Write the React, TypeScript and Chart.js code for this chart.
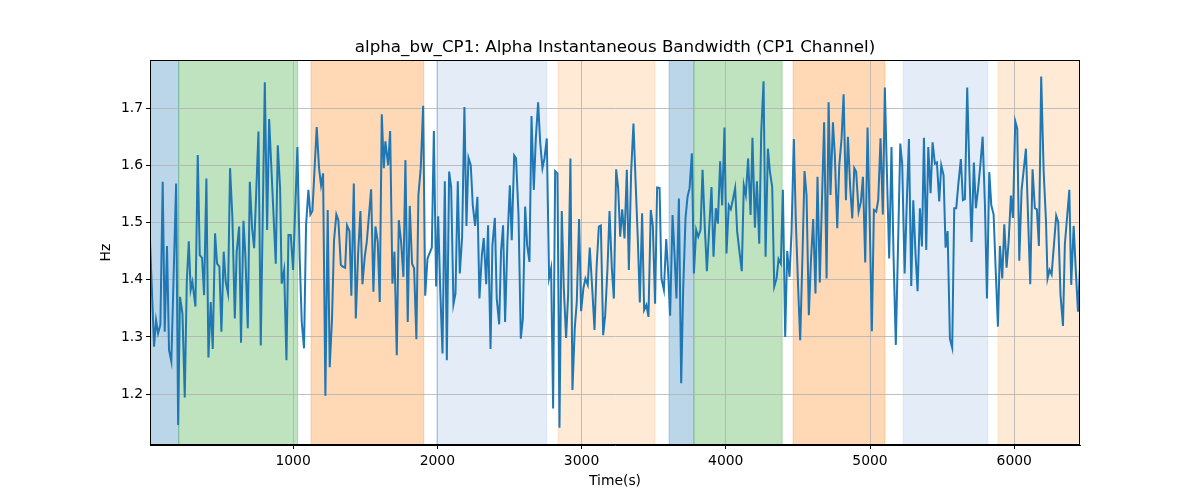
import React, { useEffect, useRef } from 'react';
import { Chart, registerables } from 'chart.js';

Chart.register(...registerables);

// Time (s) of each sample
const times = [
  8, 36, 50, 64, 80, 96, 110, 126, 140, 156, 189, 203, 216, 233, 249, 263, 277, 290, 302, 323,
  339, 353, 369, 383, 399, 413, 429, 443, 459, 473, 489, 503, 519, 533, 549, 563, 579, 596, 609, 626,
  639, 656, 669, 686, 700, 716, 730, 760, 776, 804, 820,
  834, 880, 894, 910, 921, 938, 954, 968, 984, 1000, 1030, 1046, 1060, 1076, 1090, 1106, 1120, 1134, 1164,
  1180, 1194, 1208, 1224, 1240, 1254, 1270, 1284, 1300, 1314, 1331, 1344, 1361, 1374, 1391, 1404, 1421, 1435, 1451, 1467,
  1481, 1497, 1511, 1541, 1557, 1571, 1587, 1601, 1615,
  1629, 1640, 1659, 1673, 1689, 1703, 1719, 1733, 1749, 1765, 1779, 1795, 1809, 1825, 1839, 1855, 1869, 1885, 1902, 1916,
  1932, 1946, 1962, 1976, 1992, 2006, 2020, 2036, 2052, 2066, 2082, 2096, 2112, 2126, 2142, 2156, 2172, 2188, 2202, 2216,
  2232, 2246, 2262, 2278, 2292, 2309, 2322, 2339, 2352, 2369, 2382, 2399, 2412, 2429,
  2442, 2456, 2470, 2486, 2503, 2516, 2533, 2546, 2563, 2579, 2593, 2609, 2623, 2639, 2653, 2669, 2683, 2699, 2713, 2729,
  2743, 2759, 2775, 2789, 2803, 2817, 2833, 2847, 2863, 2877, 2893, 2907, 2923, 2937, 2953, 2967, 2983, 2997, 3013, 3027,
  3043, 3057, 3074, 3090, 3104, 3120, 3134, 3150, 3164, 3180, 3194, 3210, 3224, 3240, 3254,
  3268, 3282, 3298, 3314, 3328, 3344, 3360, 3374, 3390, 3404, 3420, 3434, 3450, 3464, 3480, 3494, 3510, 3524, 3541, 3554,
  3571, 3587, 3601, 3614, 3631, 3645, 3658, 3675, 3691, 3705, 3721, 3735, 3749, 3765, 3779, 3795, 3809, 3825, 3839, 3855,
  3869, 3885, 3901, 3915, 3931, 3945, 3961, 3975, 3991, 4005, 4021, 4035, 4051, 4065,
  4079, 4095, 4111, 4125, 4139, 4155, 4172, 4185, 4202, 4216, 4232, 4246, 4262, 4276, 4292, 4306, 4322, 4336, 4352, 4366,
  4382, 4396, 4412, 4426, 4442, 4456, 4472, 4486, 4502, 4516, 4532, 4546, 4560, 4576, 4590, 4606, 4622, 4636, 4652, 4666,
  4682, 4699, 4713, 4726, 4743, 4756, 4773, 4787, 4803, 4817, 4833, 4847, 4863, 4877,
  4891, 4904, 4921, 4937, 4951, 4967, 4983, 4997, 5013, 5027, 5043, 5057, 5073, 5089, 5103, 5117, 5133, 5149, 5163, 5179,
  5193, 5210, 5223, 5240, 5256, 5270, 5286, 5300, 5316, 5330, 5346, 5360, 5374, 5390, 5404, 5420, 5434, 5450, 5464, 5480,
  5494, 5510, 5524, 5538, 5554, 5570, 5584, 5598, 5614, 5630, 5644, 5658, 5674, 5688,
  5704, 5720, 5734, 5750, 5767, 5781, 5797, 5811, 5827, 5841, 5857, 5871, 5887, 5901, 5917, 5931, 5947, 5961, 5977, 5991,
  6007, 6021, 6035, 6051, 6067, 6081, 6097, 6111, 6127, 6143, 6157, 6171, 6187, 6204, 6220, 6231, 6245, 6259, 6275, 6291,
  6305, 6321, 6338, 6351, 6368, 6382, 6395, 6412, 6426, 6442, 6456,
];

// Alpha instantaneous bandwidth (Hz) at each time above
const bandwidth = [
  1.469, 1.283, 1.329, 1.306, 1.321, 1.571, 1.309, 1.459, 1.277, 1.257, 1.568, 1.146, 1.370, 1.341, 1.194, 1.396, 1.467, 1.382, 1.396, 1.353,
  1.618, 1.443, 1.438, 1.373, 1.577, 1.264, 1.361, 1.279, 1.481, 1.428, 1.423, 1.309, 1.449, 1.396, 1.376, 1.595, 1.510, 1.332, 1.449, 1.493,
  1.290, 1.503, 1.443, 1.315, 1.571, 1.490, 1.455, 1.659, 1.285, 1.745, 1.487,
  1.681, 1.428, 1.635, 1.560, 1.393, 1.417, 1.259, 1.478, 1.478, 1.417, 1.632, 1.437, 1.326, 1.280, 1.495, 1.557, 1.514, 1.520, 1.667,
  1.595, 1.565, 1.586, 1.197, 1.522, 1.247, 1.332, 1.469, 1.514, 1.504, 1.426, 1.423, 1.421, 1.495, 1.485, 1.372, 1.568, 1.332, 1.446, 1.520,
  1.392, 1.440, 1.466, 1.558, 1.379, 1.493, 1.466, 1.361, 1.689,
  1.595, 1.642, 1.600, 1.660, 1.393, 1.449, 1.268, 1.504, 1.466, 1.405, 1.609, 1.326, 1.529, 1.428, 1.420, 1.296, 1.548, 1.595, 1.704, 1.372,
  1.437, 1.446, 1.456, 1.660, 1.388, 1.511, 1.385, 1.271, 1.572, 1.259, 1.589, 1.562, 1.357, 1.376, 1.572, 1.411, 1.475, 1.702, 1.494, 1.613,
  1.600, 1.530, 1.494, 1.545, 1.367, 1.443, 1.473, 1.392, 1.495, 1.279, 1.460, 1.508, 1.367, 1.322,
  1.450, 1.495, 1.326, 1.466, 1.565, 1.469, 1.617, 1.612, 1.513, 1.297, 1.332, 1.528, 1.460, 1.431, 1.686, 1.557, 1.647, 1.710, 1.641, 1.595,
  1.612, 1.647, 1.403, 1.420, 1.175, 1.590, 1.586, 1.141, 1.520, 1.385, 1.298, 1.373, 1.612, 1.207, 1.315, 1.361, 1.506, 1.345, 1.385, 1.402,
  1.391, 1.456, 1.385, 1.312, 1.420, 1.493, 1.495, 1.303, 1.338, 1.420, 1.520, 1.420, 1.367, 1.593, 1.560,
  1.475, 1.523, 1.472, 1.592, 1.417, 1.589, 1.673, 1.577, 1.472, 1.360, 1.516, 1.347, 1.356, 1.335, 1.522, 1.495, 1.358, 1.561, 1.560, 1.402,
  1.382, 1.471, 1.411, 1.337, 1.513, 1.443, 1.367, 1.542, 1.219, 1.385, 1.508, 1.545, 1.560, 1.621, 1.411, 1.487, 1.475, 1.487, 1.592, 1.490,
  1.415, 1.490, 1.562, 1.440, 1.525, 1.498, 1.607, 1.530, 1.666, 1.446, 1.530, 1.523, 1.542, 1.560,
  1.484, 1.449, 1.415, 1.565, 1.548, 1.612, 1.513, 1.648, 1.491, 1.572, 1.463, 1.659, 1.747, 1.440, 1.629, 1.589, 1.562, 1.388, 1.402, 1.436,
  1.428, 1.557, 1.300, 1.450, 1.405, 1.484, 1.646, 1.501, 1.385, 1.294, 1.443, 1.590, 1.548, 1.338, 1.431, 1.506, 1.376, 1.580, 1.395, 1.530,
  1.675, 1.402, 1.710, 1.548, 1.675, 1.618, 1.490, 1.600, 1.647, 1.724, 1.539, 1.650, 1.560, 1.507,
  1.595, 1.589, 1.519, 1.536, 1.580, 1.430, 1.666, 1.513, 1.310, 1.522, 1.519, 1.539, 1.647, 1.514, 1.736, 1.589, 1.437, 1.632, 1.443, 1.286,
  1.443, 1.638, 1.603, 1.411, 1.542, 1.646, 1.389, 1.539, 1.443, 1.380, 1.525, 1.458, 1.648, 1.452, 1.632, 1.551, 1.640, 1.603, 1.605, 1.537,
  1.600, 1.583, 1.456, 1.485, 1.297, 1.281, 1.525, 1.525, 1.571, 1.611, 1.539, 1.541, 1.736, 1.600,
  1.466, 1.605, 1.525, 1.560, 1.606, 1.650, 1.530, 1.367, 1.588, 1.530, 1.514, 1.420, 1.318, 1.459, 1.402, 1.497, 1.421, 1.466, 1.547, 1.508,
  1.677, 1.664, 1.433, 1.557, 1.595, 1.629, 1.501, 1.392, 1.593, 1.525, 1.523, 1.459, 1.755, 1.589, 1.504, 1.402, 1.417, 1.409, 1.460, 1.512,
  1.501, 1.373, 1.319, 1.462, 1.514, 1.557, 1.391, 1.494, 1.420, 1.344, 1.421,
];

// Shaded phases (start / end time, phase kind)
const phaseStart = [8, 207, 1125, 1995, 2838, 3607, 3779, 4467, 5230, 5887];
const phaseEnd = [207, 1032, 1906, 2759, 3510, 3779, 4391, 5103, 5817, 6456];
const phaseKind = ['a', 'b', 'c', 'd', 'e', 'a', 'b', 'c', 'd', 'e'];

const xTicks = [1000, 2000, 3000, 4000, 5000, 6000];
const yTicks = [1.2, 1.3, 1.4, 1.5, 1.6, 1.7];
const xRange = [8, 6456];
const yRange = [1.111, 1.784];

const phaseColor: Record<string, string> = {
  a: 'rgba(31,119,180,0.3)',
  b: 'rgba(44,160,44,0.3)',
  c: 'rgba(255,127,14,0.3)',
  d: 'rgba(174,199,232,0.33)',
  e: 'rgba(255,187,120,0.3)',
};

const FONT = "'DejaVu Sans', sans-serif";

export default function App() {
  const ref = useRef<HTMLCanvasElement | null>(null);

  useEffect(() => {
    if (!ref.current) return;

    const spanPlugin = {
      id: 'phaseSpans',
      beforeDraw(chart: any) {
        const { ctx, chartArea, scales } = chart;
        const x = scales.x;
        ctx.save();
        ctx.beginPath();
        ctx.rect(chartArea.left, chartArea.top, chartArea.right - chartArea.left, chartArea.bottom - chartArea.top);
        ctx.clip();
        phaseStart.forEach((s, i) => {
          const x0 = x.getPixelForValue(s);
          const x1 = x.getPixelForValue(phaseEnd[i]);
          const col = phaseColor[phaseKind[i]];
          ctx.fillStyle = col;
          ctx.fillRect(x0, chartArea.top, x1 - x0, chartArea.bottom - chartArea.top);
          ctx.strokeStyle = col;
          ctx.lineWidth = 1;
          ctx.beginPath();
          ctx.moveTo(x0, chartArea.top);
          ctx.lineTo(x0, chartArea.bottom);
          ctx.moveTo(x1, chartArea.top);
          ctx.lineTo(x1, chartArea.bottom);
          ctx.stroke();
        });
        ctx.restore();
      },
    };

    const framePlugin = {
      id: 'frame',
      afterDraw(chart: any) {
        const { ctx, chartArea } = chart;
        ctx.save();
        ctx.strokeStyle = '#000';
        ctx.lineWidth = 1;
        ctx.strokeRect(
          Math.round(chartArea.left) + 0.5,
          Math.round(chartArea.top) + 0.5,
          Math.round(chartArea.right - chartArea.left) - 1,
          Math.round(chartArea.bottom - chartArea.top) - 1
        );
        ctx.restore();
      },
    };

    const tickFont = { family: FONT, size: 13.9 };
    const gridOpts = { color: '#b0b0b0', lineWidth: 0.8, tickColor: '#000', tickLength: 4, tickWidth: 1 };

    const chart = new Chart(ref.current, {
      type: 'line',
      data: {
        datasets: [
          {
            data: times.map((t, i) => ({ x: t, y: bandwidth[i] })),
            borderColor: '#1f77b4',
            borderWidth: 2,
            pointRadius: 0,
            tension: 0,
            fill: false,
          },
        ],
      },
      options: {
        responsive: false,
        animation: false,
        devicePixelRatio: 1,
        layout: { padding: { left: 90, right: 120, top: 0, bottom: 0 } },
        plugins: {
          legend: { display: false },
          tooltip: { enabled: false },
          title: {
            display: true,
            text: 'alpha_bw_CP1: Alpha Instantaneous Bandwidth (CP1 Channel)',
            color: '#000',
            font: { family: FONT, size: 16.7, weight: 'normal' },
            padding: { top: 37.5, bottom: 2.5 },
            fullSize: false,
          },
        },
        scales: {
          x: {
            type: 'linear',
            min: xRange[0],
            max: xRange[1],
            afterBuildTicks: (s: any) => {
              s.ticks = xTicks.map((v) => ({ value: v }));
            },
            afterFit: (s: any) => {
              s.height = 55;
            },
            ticks: {
              font: tickFont,
              color: '#000',
              padding: 4,
              maxRotation: 0,
              autoSkip: false,
              callback: (v: any) => String(v),
            },
            grid: gridOpts,
            border: { color: '#000', width: 1 },
            title: {
              display: true,
              text: 'Time(s)',
              color: '#000',
              font: tickFont,
              padding: { top: 0, bottom: 10.7 },
            },
          },
          y: {
            type: 'linear',
            min: yRange[0],
            max: yRange[1],
            afterBuildTicks: (s: any) => {
              s.ticks = yTicks.map((v) => ({ value: v }));
            },
            afterFit: (s: any) => {
              s.width = 60;
            },
            ticks: {
              font: tickFont,
              color: '#000',
              padding: 3,
              autoSkip: false,
              callback: (v: any) => Number(v).toFixed(1),
            },
            grid: gridOpts,
            border: { color: '#000', width: 1 },
            title: {
              display: true,
              text: 'Hz',
              color: '#000',
              font: tickFont,
              padding: { top: 7.7, bottom: 0 },
            },
          },
        },
      },
      plugins: [spanPlugin, framePlugin],
    });

    return () => {
      chart.destroy();
    };
  }, []);

  return (
    <div style={{ position: 'absolute', left: 0, top: 0, width: 1200, height: 500, background: '#fff' }}>
      <canvas ref={ref} width={1200} height={500} style={{ display: 'block' }} />
    </div>
  );
}
